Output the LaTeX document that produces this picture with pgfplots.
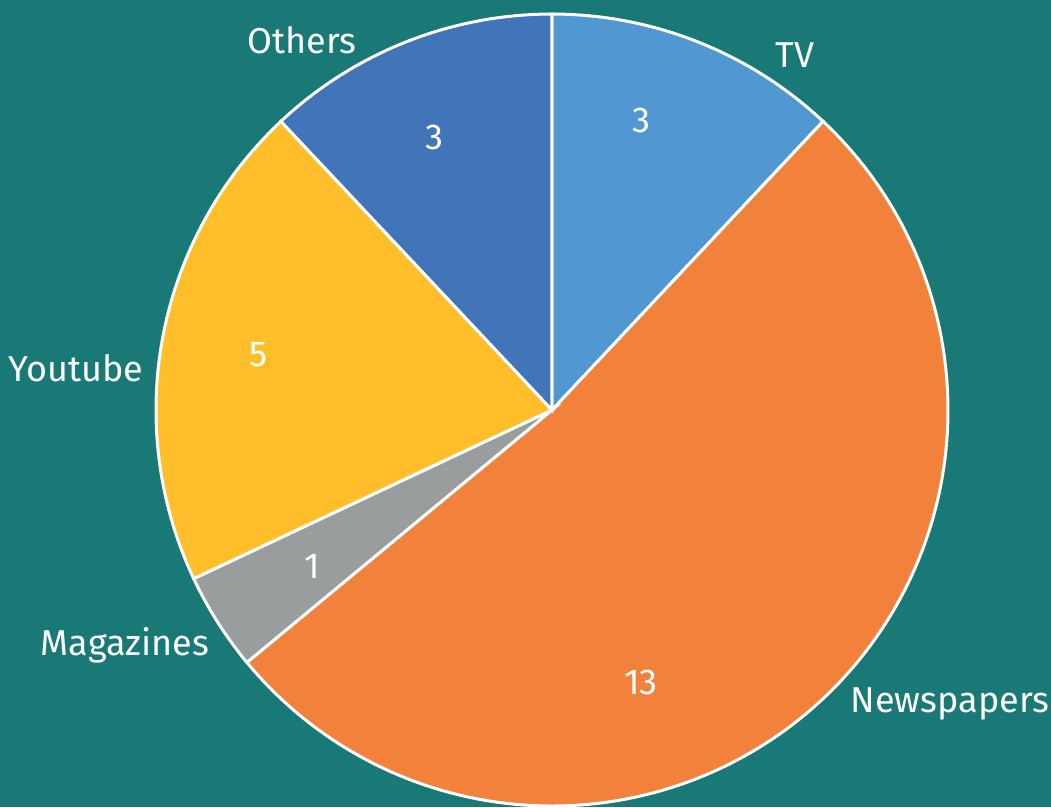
\documentclass[border=0pt]{standalone}
\usepackage{pgfplots}
\pgfplotsset{compat=1.18}
\usepackage{fontspec}
\setmainfont{Fira Sans}
\definecolor{bg}{HTML}{197976}
\definecolor{cTV}{HTML}{5197D2}
\definecolor{cNews}{HTML}{F2823B}
\definecolor{cMag}{HTML}{9A9D9E}
\definecolor{cYou}{HTML}{FFBE2A}
\definecolor{cOth}{HTML}{4274BA}
\tikzset{lbl/.style={text=white, font=\fontsize{18}{20}\selectfont, inner sep=0pt}}
% slice values
\def\vTV{3}\def\vNews{13}\def\vMag{1}\def\vYou{5}\def\vOth{3}
\pgfmathsetmacro\tot{\vTV+\vNews+\vMag+\vYou+\vOth}
\pgfmathsetmacro\aA{90}
\pgfmathsetmacro\aB{\aA-360*\vTV/\tot}
\pgfmathsetmacro\aC{\aB-360*\vNews/\tot}
\pgfmathsetmacro\aD{\aC-360*\vMag/\tot}
\pgfmathsetmacro\aE{\aD-360*\vYou/\tot}
\pgfmathsetmacro\aF{\aE-360*\vOth/\tot}
\begin{document}
\begin{tikzpicture}
\begin{axis}[x=198pt,y=198pt,
  xmin=-1.3939, xmax=1.2601, ymin=-1.0025, ymax=1.0354,
  hide axis, clip=true]
\fill[bg] (rel axis cs:0,0) rectangle (rel axis cs:1,1);
\addplot[fill=cTV, draw=white, line width=1.5pt, domain=\aB:\aA, samples=60] ({cos(x)},{sin(x)}) -- (axis cs:0,0) -- cycle;
\addplot[fill=cNews, draw=white, line width=1.5pt, domain=\aC:\aB, samples=150] ({cos(x)},{sin(x)}) -- (axis cs:0,0) -- cycle;
\addplot[fill=cMag, draw=white, line width=1.5pt, domain=\aD:\aC, samples=20] ({cos(x)},{sin(x)}) -- (axis cs:0,0) -- cycle;
\addplot[fill=cYou, draw=white, line width=1.5pt, domain=\aE:\aD, samples=80] ({cos(x)},{sin(x)}) -- (axis cs:0,0) -- cycle;
\addplot[fill=cOth, draw=white, line width=1.5pt, domain=\aF:\aE, samples=60] ({cos(x)},{sin(x)}) -- (axis cs:0,0) -- cycle;
\node[lbl] at (axis cs:0.225,0.732) {3};
\node[lbl] at (axis cs:-0.298,0.687) {3};
\node[lbl] at (axis cs:-0.740,0.141) {5};
\node[lbl] at (axis cs:-0.606,-0.396) {1};
\node[lbl] at (axis cs:0.225,-0.689) {13};
\node[lbl] at (axis cs:0.614,0.896) {TV};
\node[lbl] at (axis cs:-0.631,0.934) {Others};
\node[lbl] at (axis cs:-1.202,0.106) {Youtube};
\node[lbl] at (axis cs:-1.078,-0.593) {Magazines};
\node[lbl] at (axis cs:1.005,-0.742) {Newspapers};
\end{axis}
\end{tikzpicture}
\end{document}
